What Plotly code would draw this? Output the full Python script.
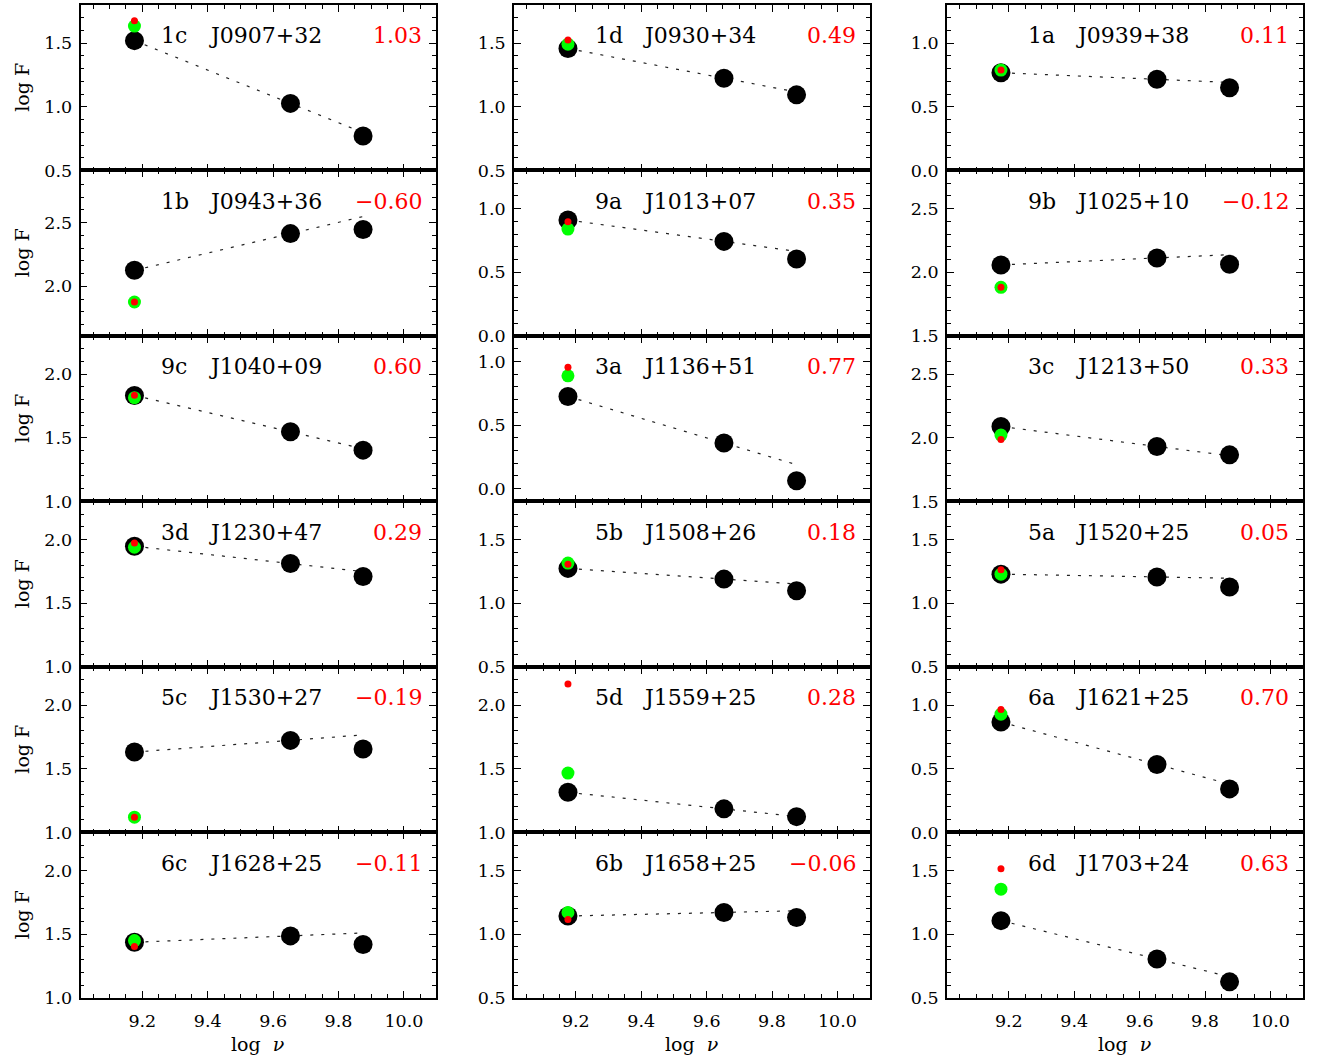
import plotly.graph_objects as go

# ---------------- data ----------------
labels = ["1c", "1d", "1a", "1b", "9a", "9b", "9c", "3a", "3c",
          "3d", "5b", "5a", "5c", "5d", "6a", "6c", "6b", "6d"]
names = ["J0907+32", "J0930+34", "J0939+38", "J0943+36", "J1013+07", "J1025+10",
         "J1040+09", "J1136+51", "J1213+50", "J1230+47", "J1508+26", "J1520+25",
         "J1530+27", "J1559+25", "J1621+25", "J1628+25", "J1658+25", "J1703+24"]
alpha_text = ["1.03", "0.49", "0.11", "\u22120.60", "0.35", "\u22120.12",
              "0.60", "0.77", "0.33", "0.29", "0.18", "0.05",
              "\u22120.19", "0.28", "0.70", "\u22120.11", "\u22120.06", "0.63"]

log_nu = [9.176, 9.653, 9.875]

black_logF = [
    [1.520, 1.027, 0.771],  # 1c
    [1.458, 1.225, 1.094],  # 1d
    [0.768, 0.716, 0.650],  # 1a
    [2.126, 2.414, 2.447],  # 1b
    [0.911, 0.743, 0.604],  # 9a
    [2.058, 2.113, 2.063],  # 9b
    [1.833, 1.547, 1.403],  # 9c
    [0.725, 0.359, 0.063],  # 3a
    [2.089, 1.932, 1.866],  # 3c
    [1.948, 1.812, 1.710],  # 3d
    [1.274, 1.190, 1.098],  # 5b
    [1.229, 1.207, 1.128],  # 5a
    [1.631, 1.723, 1.655],  # 5c
    [1.315, 1.185, 1.124],  # 5d
    [0.867, 0.534, 0.342],  # 6a
    [1.437, 1.487, 1.420],  # 6c
    [1.143, 1.171, 1.132],  # 6b
    [1.107, 0.806, 0.626],  # 6d
]
green_logF = [1.634, 1.492, 0.789, 1.877, 0.840, 1.882, 1.815, 0.887, 2.021,
              1.940, 1.316, 1.229, 1.120, 1.466, 0.929, 1.450, 1.171, 1.354]
red_logF = [1.676, 1.524, 0.789, 1.877, 0.898, 1.882, 1.835, 0.955, 1.987,
            1.974, 1.307, 1.263, 1.120, 2.166, 0.966, 1.404, 1.115, 1.514]

y_low = [0.5, 0.5, 0.0, 1.61, 0.0, 1.5, 1.0, -0.1, 1.5,
         1.0, 0.5, 0.5, 1.0, 1.0, 0.0, 1.0, 0.5, 0.5]
y_span = 1.3
x_range = [9.011, 10.098]
x_tickvals = [9.2, 9.4, 9.6, 9.8, 10.0]
x_ticktext = ["9.2", "9.4", "9.6", "9.8", "10.0"]

# ---------------- layout geometry (pixels) ----------------
W, H = 1319, 1059
H_EFF = 1050.5   # observed rendered plot height
col_left = [80.5, 514.0, 947.0]
pw = 355.5
row_top0 = 5.0
ph = 165.72
FONT = "DejaVu Serif"

fig = go.Figure()
layout = dict()
annotations = []

for i in range(18):
    r, c = divmod(i, 3)
    n = i + 1
    xs = "x" if n == 1 else f"x{n}"
    ys = "y" if n == 1 else f"y{n}"
    xk = "xaxis" if n == 1 else f"xaxis{n}"
    yk = "yaxis" if n == 1 else f"yaxis{n}"

    x0 = col_left[c] / W
    x1 = (col_left[c] + pw) / W
    top = row_top0 + r * ph
    y1 = 1 - top / H_EFF
    y0 = 1 - (top + ph) / H_EFF

    layout[xk] = dict(
        domain=[x0, x1], anchor=ys, range=x_range,
        tickmode="array", tickvals=x_tickvals, ticktext=x_ticktext,
        showticklabels=(r == 5), ticks="inside", ticklen=7, tickwidth=1.2,
        tickcolor="black", mirror="ticks", showline=True, linecolor="black",
        linewidth=1.6, showgrid=False, zeroline=False,
        tickfont=dict(family=FONT, size=17.5, color="black"),
        ticklabelstandoff=6,
        minor=dict(ticks="inside", dtick=0.05, tick0=0, ticklen=4,
                   tickwidth=1.1, tickcolor="black", showgrid=False),
    )
    layout[yk] = dict(
        domain=[y0, y1], anchor=xs, range=[y_low[i], y_low[i] + y_span],
        tickmode="linear", tick0=0, dtick=0.5, tickformat=".1f",
        ticks="inside", ticklen=7, tickwidth=1.2, tickcolor="black",
        mirror="ticks", showline=True, linecolor="black", linewidth=1.6,
        showgrid=False, zeroline=False,
        tickfont=dict(family=FONT, size=17.5, color="black"),
        ticklabelstandoff=3,
        minor=dict(ticks="inside", dtick=0.1, tick0=0, ticklen=4,
                   tickwidth=1.1, tickcolor="black", showgrid=False),
    )

    b = black_logF[i]
    slope = (b[1] - b[0]) / (log_nu[1] - log_nu[0])
    fig.add_trace(go.Scatter(
        x=[log_nu[0], log_nu[2]],
        y=[b[0], b[0] + slope * (log_nu[2] - log_nu[0])],
        mode="lines", line=dict(color="#222222", width=1.2, dash="3px,8px"),
        xaxis=xs, yaxis=ys, hoverinfo="skip"))
    fig.add_trace(go.Scatter(
        x=log_nu, y=b, mode="markers",
        marker=dict(size=19, color="black", line=dict(width=0)),
        xaxis=xs, yaxis=ys))
    fig.add_trace(go.Scatter(
        x=[log_nu[0]], y=[green_logF[i]], mode="markers",
        marker=dict(size=13, color="#00ff00", line=dict(width=0)),
        xaxis=xs, yaxis=ys))
    fig.add_trace(go.Scatter(
        x=[log_nu[0]], y=[red_logF[i]], mode="markers",
        marker=dict(size=7, color="#ff0000", line=dict(width=0)),
        xaxis=xs, yaxis=ys))

    ty = 1 - 31 / ph
    annotations.append(dict(
        text=labels[i], xref=f"{xs} domain", yref=f"{ys} domain",
        x=78.5 / pw, y=ty, xanchor="left", yanchor="middle", showarrow=False,
        font=dict(family=FONT, size=22, color="black")))
    annotations.append(dict(
        text=names[i], xref=f"{xs} domain", yref=f"{ys} domain",
        x=126.5 / pw, y=ty, xanchor="left", yanchor="middle", showarrow=False,
        font=dict(family=FONT, size=22, color="black")))
    annotations.append(dict(
        text=alpha_text[i], xref=f"{xs} domain", yref=f"{ys} domain",
        x=344 / pw, y=ty, xanchor="right", yanchor="middle", showarrow=False,
        font=dict(family=FONT, size=22, color="#ff0000")))

    if c == 0:
        annotations.append(dict(
            text="log F", xref="paper", yref="paper",
            x=22 / W, y=(y0 + y1) / 2, textangle=-90, xanchor="center",
            yanchor="middle", showarrow=False,
            font=dict(family=FONT, size=19, color="black")))
    if r == 5:
        annotations.append(dict(
            text="log\u00a0\u00a0<i>\u03bd</i>", xref="paper", yref="paper",
            x=(x0 + x1) / 2, y=1 - 1045 / H_EFF, xanchor="center",
            yanchor="middle", showarrow=False,
            font=dict(family=FONT, size=19, color="black")))

fig.update_layout(**layout)
fig.update_layout(
    width=W, height=H, margin=dict(l=0, r=0, t=0, b=0),
    paper_bgcolor="white", plot_bgcolor="white", showlegend=False,
    annotations=annotations,
)
fig.write_html("out.html")
